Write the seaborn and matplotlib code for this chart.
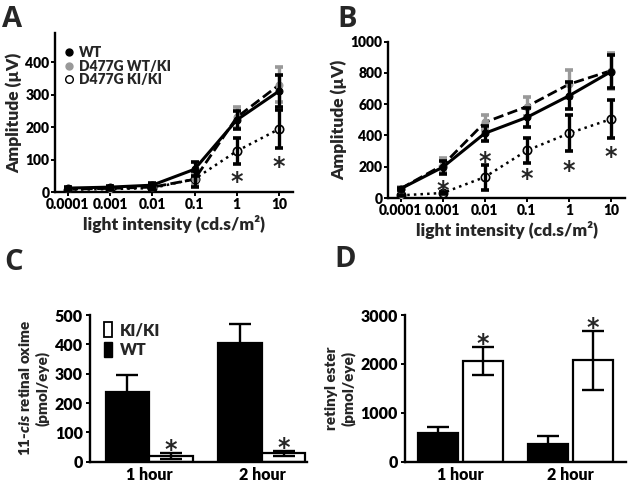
import numpy as np
import pandas as pd
import seaborn as sns
import matplotlib.pyplot as plt
from matplotlib.lines import Line2D
from matplotlib.patches import Patch
from matplotlib.transforms import offset_copy

# --- data ---
intensity = [0.0001, 0.001, 0.01, 0.1, 1, 10]
tick_labels = ["0.0001", "0.001", "0.01", "0.1", "1", "10"]

# panel A (scotopic)
a_wt = [12, 15, 21, 70, 222, 311]
a_wt_err = [4, 5, 7, 22, 27, 49]
a_het = [9, 11, 15, 39, 230, 330]
a_het_err = [4, 5, 6, 18, 33, 54]
a_ki = [7, 9, 12, 40, 126, 194]
a_ki_err = [3, 4, 5, 25, 41, 58]
a_star_x = [1, 10]
a_star_y = [52, 98]

# panel B (photopic)
b_wt = [59, 197, 414, 516, 654, 809]
b_wt_err = [8, 42, 47, 60, 86, 104]
b_het = [60, 210, 484, 585, 728, 815]
b_het_err = [8, 45, 50, 63, 90, 115]
b_ki = [17, 32, 134, 304, 414, 505]
b_ki_err = [5, 8, 80, 82, 114, 122]
b_star_x = [0.001, 0.01, 0.1, 1, 10]
b_star_y = [91, 272, 166, 219, 304]

# panel C
times = ["1 hour", "2 hour"]
c_wt = [237, 405]
c_wt_err = [60, 65]
c_ki = [19, 28]
c_ki_err = [10, 8]

# panel D
d_wt = [580, 370]
d_wt_err = [120, 150]
d_ki = [2060, 2070]
d_ki_err = [290, 600]

sns.set_style("ticks")
plt.rcParams["font.family"] = ["Lato", "DejaVu Sans"]
plt.rcParams["font.weight"] = "heavy"
plt.rcParams["axes.labelweight"] = "heavy"
plt.rcParams["axes.linewidth"] = 1.7
plt.rcParams["xtick.major.width"] = 1.4
plt.rcParams["ytick.major.width"] = 1.4
plt.rcParams["xtick.major.size"] = 3
plt.rcParams["ytick.major.size"] = 3
plt.rcParams["xtick.color"] = "black"
plt.rcParams["ytick.color"] = "black"
plt.rcParams["axes.edgecolor"] = "black"
plt.rcParams["mathtext.fontset"] = "custom"
plt.rcParams["mathtext.rm"] = "Lato:heavy"
plt.rcParams["mathtext.it"] = "Lato:heavy:italic"
plt.rcParams["mathtext.bf"] = "Lato:heavy"

W, H = 629, 484
fig = plt.figure(figsize=(W / 100, H / 100), dpi=100)


def box(l, t, r, b):
    return [l / W, 1 - b / H, (r - l) / W, (b - t) / H]


def star(ax, x, y, dy=0):
    # asterisk glyph sits high in its box, nudge it down onto the value
    # dy lifts it above an error cap (in points)
    ax.text(x, y, "*", ha="center", va="center", fontsize=17, fontweight="bold",
            family="DejaVu Sans",
            transform=offset_copy(ax.transData, fig=fig, y=-5 + dy, units="points"))


def line_panel(ax, wt, wt_err, het, het_err, ki, ki_err, ylim, yticks, star_x, star_y):
    # gray error bars first so black ones sit over them
    ax.errorbar(intensity, het, yerr=het_err, fmt="none", ecolor="#999999",
                elinewidth=2.4, capsize=2.8, capthick=2.6, zorder=2)
    sns.lineplot(x=intensity, y=ki, ax=ax, color="black", linestyle=":", linewidth=1.8,
                 marker="o", markersize=6, markerfacecolor="white",
                 markeredgecolor="black", markeredgewidth=1.2, zorder=3)
    sns.lineplot(x=intensity, y=het, ax=ax, color="black", linestyle="--", linewidth=2,
                 marker="o", markersize=5, markerfacecolor="#999999",
                 markeredgecolor="#999999", zorder=3)
    sns.lineplot(x=intensity, y=wt, ax=ax, color="black", linestyle="-", linewidth=2.2,
                 marker="o", markersize=5, markerfacecolor="black",
                 markeredgecolor="black", zorder=4)
    ax.errorbar(intensity, wt, yerr=wt_err, fmt="none", ecolor="black",
                elinewidth=2.4, capsize=2.8, capthick=2.6, zorder=5)
    ax.errorbar(intensity, ki, yerr=ki_err, fmt="none", ecolor="black",
                elinewidth=2.4, capsize=2.8, capthick=2.6, zorder=5)
    for sx, sy in zip(star_x, star_y):
        star(ax, sx, sy)
    ax.set_xscale("log")
    ax.set_xlim(10 ** -4.3, 10 ** 1.33)
    ax.set_xticks(intensity)
    ax.set_xticklabels(tick_labels)
    ax.minorticks_off()
    ax.set_ylim(*ylim)
    ax.set_yticks(yticks)
    ax.tick_params(labelsize=10, pad=1)
    ax.set_xlabel("light intensity (cd.s/m²)", fontsize=12.5, labelpad=3)
    ax.set_ylabel("Amplitude (µV)", fontsize=12.5, labelpad=2)
    sns.despine(ax=ax)


ax_a = fig.add_axes(box(55, 33, 293, 192))
line_panel(ax_a, a_wt, a_wt_err, a_het, a_het_err, a_ki, a_ki_err,
           (0, 490), [0, 100, 200, 300, 400], a_star_x, a_star_y)
handles = [
    Line2D([], [], linestyle="none", marker="o", markersize=5, color="black"),
    Line2D([], [], linestyle="none", marker="o", markersize=5, color="#999999"),
    Line2D([], [], linestyle="none", marker="o", markersize=5.5,
           markerfacecolor="white", markeredgecolor="black"),
]
ax_a.legend(handles, ["WT", "D477G WT/KI", "D477G KI/KI"], loc="upper left",
            bbox_to_anchor=(0.0, 0.98), frameon=False, fontsize=10,
            handlelength=0.6, handletextpad=0.4, labelspacing=0.05, borderaxespad=0.3)

ax_b = fig.add_axes(box(388, 41.7, 625, 198))
line_panel(ax_b, b_wt, b_wt_err, b_het, b_het_err, b_ki, b_ki_err,
           (0, 1000), [0, 200, 400, 600, 800, 1000], b_star_x, b_star_y)


def bar_panel(ax, wt, wt_err, ki, ki_err, width, gap):
    df = pd.DataFrame({
        "time": times * 2,
        "value": wt + ki,
        "genotype": ["WT"] * len(times) + ["KI/KI"] * len(times),
    })
    sns.barplot(data=df, x="time", y="value", hue="genotype", hue_order=["WT", "KI/KI"],
                palette={"WT": "black", "KI/KI": "white"}, edgecolor="black",
                linewidth=1.6, width=width, gap=gap, errorbar=None, legend=False, ax=ax)
    tops = []
    for cont, vals, errs in zip(ax.containers, [wt, ki], [wt_err, ki_err]):
        xs = [p.get_x() + p.get_width() / 2 for p in cont]
        ax.errorbar(xs, vals, yerr=errs, fmt="none", ecolor="black",
                    elinewidth=1.7, capsize=7.6, capthick=1.7, zorder=5)
        tops.append((xs, [v + e for v, e in zip(vals, errs)]))
    ax.set_xlabel("")
    ax.tick_params(labelsize=11.5, pad=2)
    ax.tick_params(axis="x", length=0, pad=4)
    sns.despine(ax=ax)
    return tops


ax_c = fig.add_axes(box(90, 315, 307, 461.7))
tops_c = bar_panel(ax_c, c_wt, c_wt_err, c_ki, c_ki_err, 0.773, 0)
ax_c.set_xlim(-0.524, 1.40)
ax_c.set_ylim(0, 500)
ax_c.set_yticks([0, 100, 200, 300, 400, 500])
ax_c.set_ylabel("11-$\\it{cis}$ retinal oxime\n(pmol/eye)", fontsize=11, labelpad=4)
for sx, sy in zip(*tops_c[1]):
    star(ax_c, sx, sy, dy=7)
ax_c.legend([Patch(facecolor="white", edgecolor="black", linewidth=1.3),
             Patch(facecolor="black", edgecolor="black")],
            ["KI/KI", "WT"], loc="upper left", bbox_to_anchor=(0.0, 1.05),
            frameon=False, fontsize=11.5, handlelength=0.45, handleheight=1.1,
            handletextpad=0.5, labelspacing=0.25)

ax_d = fig.add_axes(box(405, 315, 626, 461.7))
tops_d = bar_panel(ax_d, d_wt, d_wt_err, d_ki, d_ki_err, 0.818, 0.11)
ax_d.set_xlim(-0.505, 1.505)
ax_d.set_ylim(0, 3000)
ax_d.set_yticks([0, 1000, 2000, 3000])
ax_d.set_ylabel("retinyl ester\n(pmol/eye)", fontsize=11, labelpad=4)
for sx, sy in zip(*tops_d[1]):
    star(ax_d, sx, sy, dy=7)

for letter, x, y in [("A", 2, 5), ("B", 337, 5), ("C", 4, 248), ("D", 334, 245)]:
    fig.text(x / W, 1 - y / H, letter, ha="left", va="top", fontsize=21, fontweight="bold",
             family=["Open Sans", "DejaVu Sans"])

fig.savefig("out.png", dpi=100)
